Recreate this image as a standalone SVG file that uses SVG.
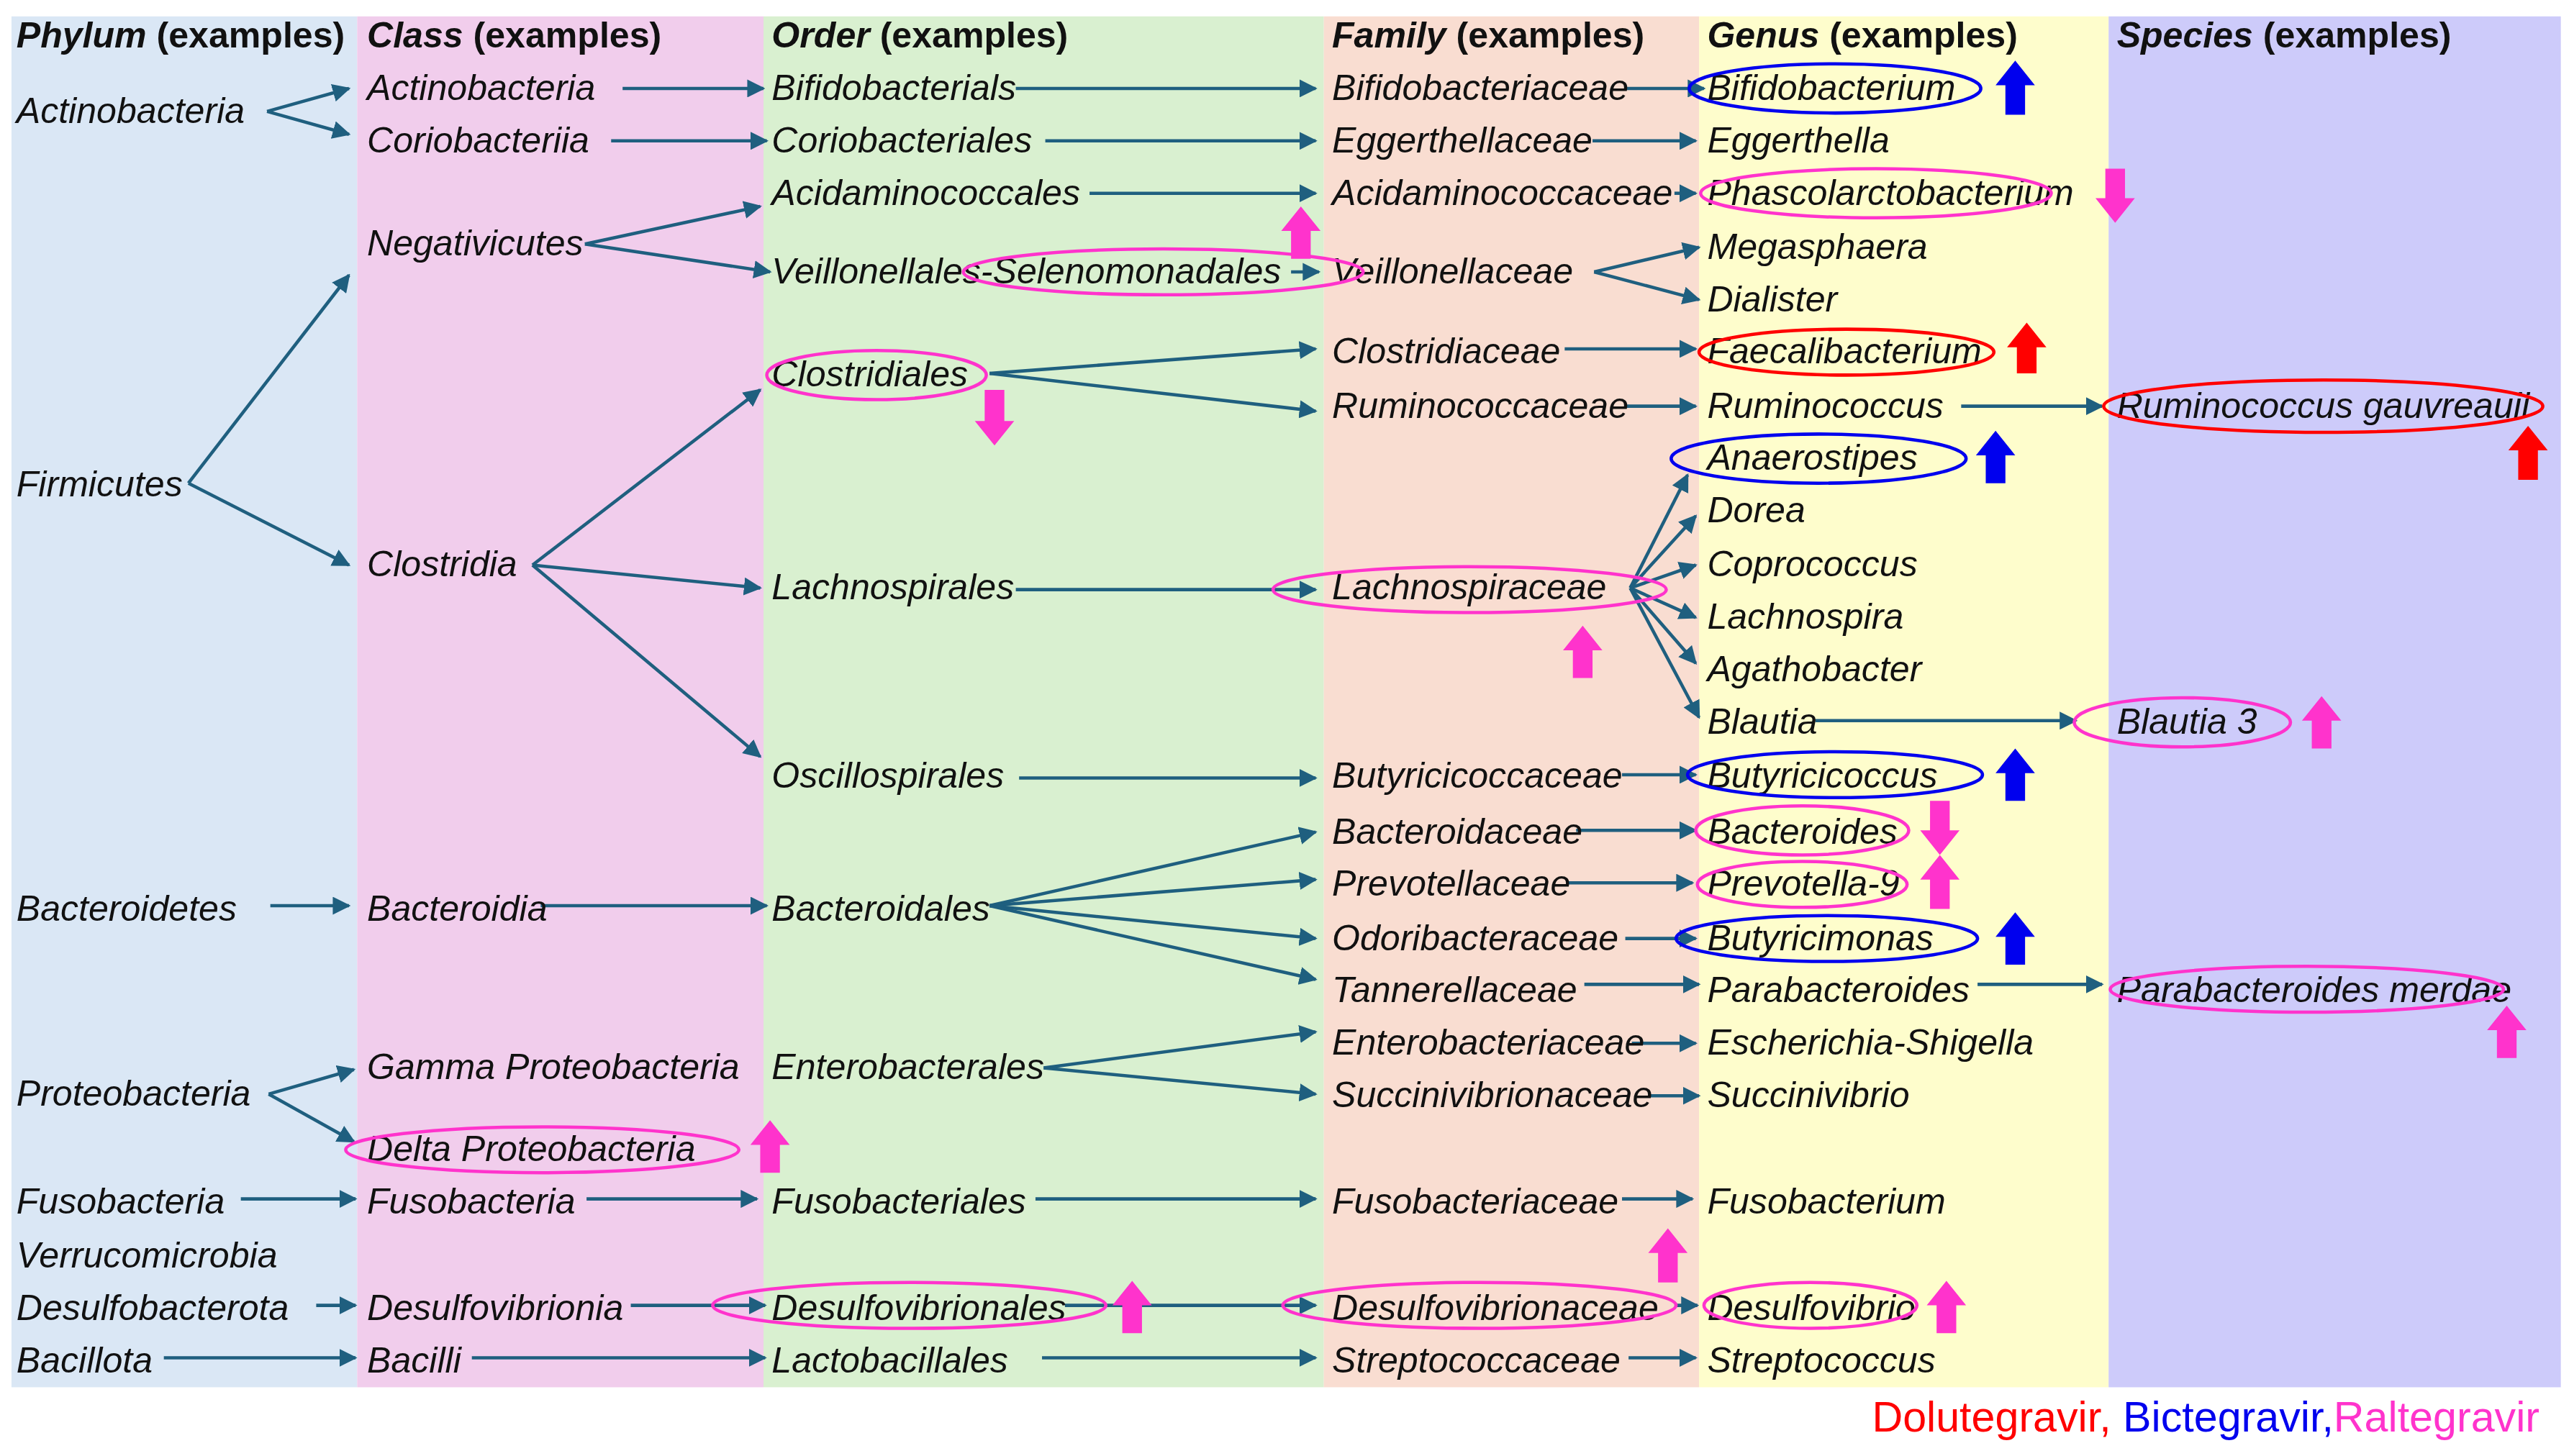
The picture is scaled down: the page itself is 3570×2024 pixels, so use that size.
<svg xmlns="http://www.w3.org/2000/svg" width="3570" height="2024" viewBox="0 0 3570 2024">
<style>
.t{font-family:"Liberation Sans",Arial,sans-serif;font-size:22px;font-style:italic;fill:#111}
.h{font-family:"Liberation Sans",Arial,sans-serif;font-size:22px;font-weight:bold;fill:#111}
.c{stroke:#1f5f7f;stroke-width:2;fill:none;marker-end:url(#ah)}
.em{fill:none;stroke:#ff33cc;stroke-width:2}
.eb{fill:none;stroke:#0000ee;stroke-width:2}
.er{fill:none;stroke:#ff0000;stroke-width:2}
.m{fill:#ff33cc}.b{fill:#0000ee}.r{fill:#ff0000}
</style>
<defs><marker id="ah" viewBox="0 0 10 10" refX="9" refY="5" markerWidth="5.5" markerHeight="5.5" orient="auto"><path d="M0,0L10,5L0,10z" fill="#1f5f7f"/></marker></defs>
<rect width="3570" height="2024" fill="#fff"/>
<g transform="scale(2.2768)">
<g id="bands">
<rect x="7" y="10" width="211" height="837" fill="#dae7f5"/>
<rect x="218" y="10" width="248" height="837" fill="#f1cdec"/>
<rect x="466" y="10" width="342" height="837" fill="#d9f0d0"/>
<rect x="808" y="10" width="229" height="837" fill="#f9ddd1"/>
<rect x="1037" y="10" width="250" height="837" fill="#fefdcc"/>
<rect x="1287" y="10" width="276" height="837" fill="#cdcbfa"/>
</g>
<g id="headers">
<text class="h" x="10" y="29"><tspan font-style="italic">Phylum</tspan> (examples)</text>
<text class="h" x="224" y="29"><tspan font-style="italic">Class</tspan> (examples)</text>
<text class="h" x="471" y="29"><tspan font-style="italic">Order</tspan> (examples)</text>
<text class="h" x="813" y="29"><tspan font-style="italic">Family</tspan> (examples)</text>
<text class="h" x="1042" y="29"><tspan font-style="italic">Genus</tspan> (examples)</text>
<text class="h" x="1292" y="29"><tspan font-style="italic">Species</tspan> (examples)</text>
</g>
<g id="connectors">
<path class="c" d="M163,68L213,54"/><path class="c" d="M163,68L213,82"/>
<path class="c" d="M380,54H466"/><path class="c" d="M373,86H468"/>
<path class="c" d="M357,149L464,126"/><path class="c" d="M357,149L470,166"/>
<path class="c" d="M115,295L213,168"/><path class="c" d="M115,295L213,345"/>
<path class="c" d="M325,345L464,238"/><path class="c" d="M325,345L464,359"/><path class="c" d="M325,345L464,462"/>
<path class="c" d="M620,54H803"/><path class="c" d="M638,86H803"/><path class="c" d="M665,118H803"/><path class="c" d="M788,166H805"/>
<path class="c" d="M604,228L803,213"/><path class="c" d="M604,228L803,251"/>
<path class="c" d="M620,360H803"/><path class="c" d="M622,475H803"/>
<path class="c" d="M165,553H213"/><path class="c" d="M330,553H468"/>
<path class="c" d="M604,553L803,508"/><path class="c" d="M604,553L803,537"/><path class="c" d="M604,553L803,573"/><path class="c" d="M604,553L803,598"/>
<path class="c" d="M164,668L216,653"/><path class="c" d="M164,668L216,697"/>
<path class="c" d="M637,652L803,630"/><path class="c" d="M637,652L803,668"/>
<path class="c" d="M147,732H217"/><path class="c" d="M358,732H462"/><path class="c" d="M632,732H803"/><path class="c" d="M990,732H1033"/>
<path class="c" d="M193,797H217"/><path class="c" d="M385,797H467"/><path class="c" d="M650,797H803"/><path class="c" d="M1022,797H1036"/>
<path class="c" d="M100,829H217"/><path class="c" d="M288,829H467"/><path class="c" d="M636,829H803"/><path class="c" d="M994,829H1035"/>
<path class="c" d="M992,54H1040"/><path class="c" d="M972,86H1035"/><path class="c" d="M1022,118H1035"/>
<path class="c" d="M973,166L1037,151"/><path class="c" d="M973,166L1037,183"/>
<path class="c" d="M955,213H1035"/><path class="c" d="M993,248H1035"/>
<path class="c" d="M995,359L1030,290"/><path class="c" d="M995,359L1035,315"/><path class="c" d="M995,359L1035,345"/><path class="c" d="M995,359L1035,377"/><path class="c" d="M995,359L1035,405"/><path class="c" d="M995,359L1037,438"/>
<path class="c" d="M990,473H1035"/><path class="c" d="M962,507H1035"/><path class="c" d="M957,539H1033"/><path class="c" d="M992,573H1035"/><path class="c" d="M967,601H1037"/>
<path class="c" d="M996,637H1035"/><path class="c" d="M1006,669H1037"/>
<path class="c" d="M1197,248H1283"/><path class="c" d="M1108,440H1267"/><path class="c" d="M1207,601H1283"/>
</g>
<g id="phylum">
<text class="t" x="10" y="75">Actinobacteria</text>
<text class="t" x="10" y="303">Firmicutes</text>
<text class="t" x="10" y="562">Bacteroidetes</text>
<text class="t" x="10" y="675">Proteobacteria</text>
<text class="t" x="10" y="741">Fusobacteria</text>
<text class="t" x="10" y="774">Verrucomicrobia</text>
<text class="t" x="10" y="806">Desulfobacterota</text>
<text class="t" x="10" y="838">Bacillota</text>
</g>
<g id="class">
<text class="t" x="224" y="61">Actinobacteria</text>
<text class="t" x="224" y="93">Coriobacteriia</text>
<text class="t" x="224" y="156">Negativicutes</text>
<text class="t" x="224" y="352">Clostridia</text>
<text class="t" x="224" y="562">Bacteroidia</text>
<text class="t" x="224" y="659">Gamma Proteobacteria</text>
<text class="t" x="224" y="709">Delta Proteobacteria</text>
<text class="t" x="224" y="741">Fusobacteria</text>
<text class="t" x="224" y="806">Desulfovibrionia</text>
<text class="t" x="224" y="838">Bacilli</text>
</g>
<g id="order">
<text class="t" x="471" y="61">Bifidobacterials</text>
<text class="t" x="471" y="93">Coriobacteriales</text>
<text class="t" x="471" y="125">Acidaminococcales</text>
<text class="t" x="471" y="173">Veillonellales-Selenomonadales</text>
<text class="t" x="471" y="236">Clostridiales</text>
<text class="t" x="471" y="366">Lachnospirales</text>
<text class="t" x="471" y="481">Oscillospirales</text>
<text class="t" x="471" y="562">Bacteroidales</text>
<text class="t" x="471" y="659">Enterobacterales</text>
<text class="t" x="471" y="741">Fusobacteriales</text>
<text class="t" x="471" y="806">Desulfovibrionales</text>
<text class="t" x="471" y="838">Lactobacillales</text>
</g>
<g id="family">
<text class="t" x="813" y="61">Bifidobacteriaceae</text>
<text class="t" x="813" y="93">Eggerthellaceae</text>
<text class="t" x="813" y="125">Acidaminococcaceae</text>
<text class="t" x="813" y="173">Veillonellaceae</text>
<text class="t" x="813" y="222">Clostridiaceae</text>
<text class="t" x="813" y="255">Ruminococcaceae</text>
<text class="t" x="813" y="366">Lachnospiraceae</text>
<text class="t" x="813" y="481">Butyricicoccaceae</text>
<text class="t" x="813" y="515">Bacteroidaceae</text>
<text class="t" x="813" y="547">Prevotellaceae</text>
<text class="t" x="813" y="580">Odoribacteraceae</text>
<text class="t" x="813" y="612">Tannerellaceae</text>
<text class="t" x="813" y="644">Enterobacteriaceae</text>
<text class="t" x="813" y="676">Succinivibrionaceae</text>
<text class="t" x="813" y="741">Fusobacteriaceae</text>
<text class="t" x="813" y="806">Desulfovibrionaceae</text>
<text class="t" x="813" y="838">Streptococcaceae</text>
</g>
<g id="genus">
<text class="t" x="1042" y="61">Bifidobacterium</text>
<text class="t" x="1042" y="93">Eggerthella</text>
<text class="t" x="1042" y="125">Phascolarctobacterium</text>
<text class="t" x="1042" y="158">Megasphaera</text>
<text class="t" x="1042" y="190">Dialister</text>
<text class="t" x="1042" y="222">Faecalibacterium</text>
<text class="t" x="1042" y="255">Ruminococcus</text>
<text class="t" x="1042" y="287">Anaerostipes</text>
<text class="t" x="1042" y="319">Dorea</text>
<text class="t" x="1042" y="352">Coprococcus</text>
<text class="t" x="1042" y="384">Lachnospira</text>
<text class="t" x="1042" y="416">Agathobacter</text>
<text class="t" x="1042" y="448">Blautia</text>
<text class="t" x="1042" y="481">Butyricicoccus</text>
<text class="t" x="1042" y="515">Bacteroides</text>
<text class="t" x="1042" y="547">Prevotella-9</text>
<text class="t" x="1042" y="580">Butyricimonas</text>
<text class="t" x="1042" y="612">Parabacteroides</text>
<text class="t" x="1042" y="644">Escherichia-Shigella</text>
<text class="t" x="1042" y="676">Succinivibrio</text>
<text class="t" x="1042" y="741">Fusobacterium</text>
<text class="t" x="1042" y="806">Desulfovibrio</text>
<text class="t" x="1042" y="838">Streptococcus</text>
</g>
<g id="species">
<text class="t" x="1292" y="255">Ruminococcus gauvreauii</text>
<text class="t" x="1292" y="448">Blautia 3</text>
<text class="t" x="1292" y="612">Parabacteroides merdae</text>
</g>
<g id="highlights">
<ellipse class="eb" cx="1120" cy="54" rx="89" ry="15"/>
<ellipse class="em" cx="1145" cy="118" rx="107" ry="15"/>
<ellipse class="em" cx="710" cy="166" rx="122" ry="14"/>
<ellipse class="er" cx="1127" cy="215" rx="90" ry="14"/>
<ellipse class="er" cx="1418" cy="248" rx="134" ry="16"/>
<ellipse class="em" cx="535" cy="229" rx="67" ry="15"/>
<ellipse class="eb" cx="1110" cy="280" rx="90" ry="15"/>
<ellipse class="em" cx="897" cy="360" rx="120" ry="14"/>
<ellipse class="em" cx="1332" cy="441" rx="66" ry="15"/>
<ellipse class="eb" cx="1120" cy="473" rx="90" ry="14"/>
<ellipse class="em" cx="1100" cy="507" rx="65" ry="15"/>
<ellipse class="em" cx="1100" cy="540" rx="64" ry="14"/>
<ellipse class="eb" cx="1115" cy="573" rx="92" ry="14"/>
<ellipse class="em" cx="1408" cy="604" rx="120" ry="14"/>
<ellipse class="em" cx="331" cy="702" rx="120" ry="14"/>
<ellipse class="em" cx="555" cy="797" rx="120" ry="14"/>
<ellipse class="em" cx="903" cy="797" rx="120" ry="14"/>
<ellipse class="em" cx="1105" cy="797" rx="65" ry="14"/>
</g>
<g id="trend-arrows">
<polygon class="b" points="1230,37 1242,52 1236,52 1236,70 1224,70 1224,52 1218,52"/>
<polygon class="m" points="1291,136 1303,121 1297,121 1297,103 1285,103 1285,121 1279,121"/>
<polygon class="m" points="794,126 806,141 800,141 800,158 788,158 788,141 782,141"/>
<polygon class="m" points="607,272 619,257 613,257 613,238 601,238 601,257 595,257"/>
<polygon class="r" points="1237,197 1249,212 1243,212 1243,228 1231,228 1231,212 1225,212"/>
<polygon class="b" points="1218,263 1230,278 1224,278 1224,295 1212,295 1212,278 1206,278"/>
<polygon class="r" points="1543,260 1555,275 1549,275 1549,293 1537,293 1537,275 1531,275"/>
<polygon class="m" points="966,382 978,397 972,397 972,414 960,414 960,397 954,397"/>
<polygon class="m" points="1417,425 1429,440 1423,440 1423,457 1411,457 1411,440 1405,440"/>
<polygon class="b" points="1230,457 1242,472 1236,472 1236,489 1224,489 1224,472 1218,472"/>
<polygon class="m" points="1184,522 1196,507 1190,507 1190,489 1178,489 1178,507 1172,507"/>
<polygon class="m" points="1184,522 1196,537 1190,537 1190,555 1178,555 1178,537 1172,537"/>
<polygon class="b" points="1230,557 1242,572 1236,572 1236,589 1224,589 1224,572 1218,572"/>
<polygon class="m" points="1530,614 1542,629 1536,629 1536,646 1524,646 1524,629 1518,629"/>
<polygon class="m" points="470,684 482,699 476,699 476,716 464,716 464,699 458,699"/>
<polygon class="m" points="1018,750 1030,765 1024,765 1024,783 1012,783 1012,765 1006,765"/>
<polygon class="m" points="691,782 703,797 697,797 697,814 685,814 685,797 679,797"/>
<polygon class="m" points="1188,782 1200,797 1194,797 1194,814 1182,814 1182,797 1176,797"/>
</g>
<g id="legend">
<text x="1550" y="874" text-anchor="end" style="font-family:'Liberation Sans',Arial,sans-serif;font-size:26px"><tspan fill="#ff0000">Dolutegravir,</tspan><tspan fill="#0000ee"> Bictegravir,</tspan><tspan fill="#ff33cc">Raltegravir</tspan></text>
</g>
</g>
</svg>
